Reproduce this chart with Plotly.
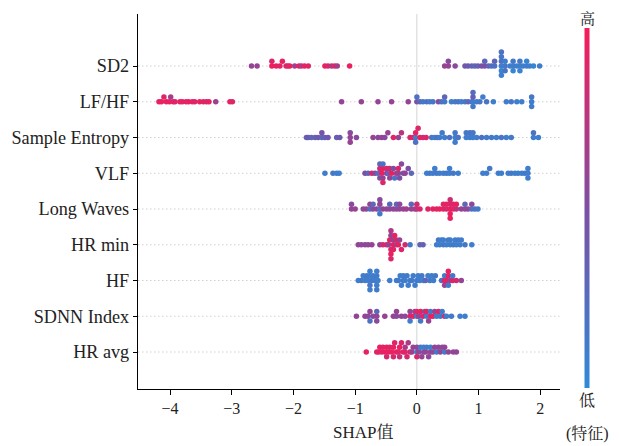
import numpy as np
import plotly.graph_objects as go

# ---------------- data ----------------
features = ["SD2", "LF/HF", "Sample Entropy", "VLF", "Long Waves",
            "HR min", "HF", "SDNN Index", "HR avg"]

sd2_shap = [-2.68, -2.59, -2.35, -2.35, -2.28, -2.22, -2.18, -2.12, -2.09, -2.06, -1.98,
            -1.91, -1.87, -1.82, -1.76, -1.49, -1.44, -1.38, -1.33, -1.29, -1.09,
            0.45, 0.51, 0.51, 0.62, 0.78, 0.83, 0.89, 0.94, 0.99, 1.05, 1.10, 1.10, 1.16,
            1.21, 1.26, 1.26, 1.37, 1.37, 1.37, 1.37, 1.37, 1.37, 1.43, 1.43, 1.43, 1.51,
            1.56, 1.56, 1.56, 1.62, 1.67, 1.67, 1.67, 1.72, 1.78, 1.78, 1.83, 1.89, 1.99]
sd2_feat = [0.6, 0.6, 0.95, 0.9, 0.95, 0.9, 0.95, 0.95, 0.8, 0.95, 0.65,
            0.95, 0.7, 0.95, 0.9, 0.95, 0.9, 0.7, 0.95, 0.65, 0.95,
            0.6, 0.6, 0.55, 0.55, 0.4, 0.4, 0.35, 0.3, 0.35, 0.45, 0.5, 0.3, 0.3,
            0.25, 0.2, 0.3, 0.1, 0.2, 0.05, 0.15, 0.1, 0.2, 0.15, 0.1, 0.2, 0.1,
            0.1, 0.15, 0.05, 0.1, 0.1, 0.15, 0.05, 0.1, 0.1, 0.05, 0.1, 0.05, 0.1]

lfhf_shap = [-4.18, -4.14, -4.10, -4.06, -4.01, -3.99, -3.95, -3.92, -3.84, -3.80, -3.74,
             -3.70, -3.64, -3.60, -3.52, -3.46, -3.41, -3.37, -3.26, -3.03, -2.99,
             -1.22, -0.90, -0.63, -0.41, -0.14,
             0.0, 0.0, 0.05, 0.10, 0.16, 0.21, 0.26, 0.35, 0.40, 0.45, 0.45, 0.56, 0.62,
             0.67, 0.72, 0.78, 0.83, 0.89, 0.91, 0.91, 0.91, 0.91, 0.97, 1.02, 1.07, 1.13,
             1.24, 1.45, 1.53, 1.62, 1.70, 1.86, 1.86, 1.86]
lfhf_feat = [0.95, 0.95, 0.9, 0.95, 0.95, 0.65, 0.95, 0.9, 0.95, 0.95, 0.9,
             0.95, 0.95, 0.9, 0.95, 0.95, 0.85, 0.95, 0.65, 0.95, 0.9,
             0.6, 0.6, 0.6, 0.6, 0.6,
             0.45, 0.2, 0.3, 0.15, 0.2, 0.1, 0.15, 0.55, 0.2, 0.15, 0.3, 0.1, 0.15,
             0.2, 0.1, 0.15, 0.3, 0.2, 0.1, 0.35, 0.15, 0.25, 0.1, 0.15, 0.1, 0.2,
             0.1, 0.1, 0.15, 0.1, 0.1, 0.1, 0.15, 0.1]

sampen_shap = [-1.79, -1.76, -1.71, -1.65, -1.60, -1.54, -1.54, -1.49, -1.44, -1.30, -1.25,
               -1.08, -1.08, -1.08, -0.98,
               -0.71, -0.63, -0.57, -0.52, -0.47, -0.38, -0.30, -0.25,
               -0.11, -0.06, -0.02, -0.02, -0.02, 0.02, 0.05, 0.10, 0.15,
               0.24, 0.29, 0.33, 0.37, 0.41, 0.45, 0.53, 0.62, 0.62, 0.62, 0.67, 0.80,
               0.80, 0.86, 0.86, 0.91, 0.91, 0.97, 1.05, 1.13, 1.21, 1.29, 1.37, 1.45,
               1.53, 1.89, 1.89, 1.97]
sampen_feat = [0.35, 0.4, 0.3, 0.35, 0.4, 0.3, 0.45, 0.35, 0.4, 0.35, 0.4,
               0.6, 0.55, 0.6, 0.55,
               0.6, 0.55, 0.6, 0.55, 0.6, 0.9, 0.6, 0.75,
               0.9, 0.95, 0.1, 0.95, 0.2, 0.9, 0.95, 0.85, 0.9,
               0.15, 0.1, 0.2, 0.1, 0.15, 0.1, 0.2, 0.1, 0.15, 0.1, 0.2, 0.1,
               0.15, 0.1, 0.2, 0.1, 0.15, 0.1, 0.2, 0.1, 0.15, 0.1, 0.2, 0.1,
               0.15, 0.1, 0.2, 0.1]

vlf_shap = [-1.49, -1.36, -1.30, -1.26,
            -0.84, -0.79, -0.73, -0.68, -0.63, -0.60, -0.60, -0.60, -0.57, -0.55,
            -0.55, -0.55, -0.55, -0.49, -0.49, -0.46, -0.44, -0.44, -0.41, -0.38,
            -0.36, -0.33, -0.30, -0.30, -0.28, -0.25, -0.22, -0.19, -0.14, -0.09,
            0.16, 0.21, 0.26, 0.29, 0.32, 0.37, 0.43, 0.48, 0.53, 0.53, 0.59, 0.67,
            1.07, 1.13, 1.18, 1.32, 1.37, 1.48, 1.53, 1.59, 1.64, 1.70, 1.75, 1.80,
            1.80, 1.80]
vlf_feat = [0.1, 0.15, 0.1, 0.1,
            0.5, 0.3, 0.85, 0.6, 0.2, 0.9, 0.5, 0.3, 0.95, 0.95,
            0.6, 0.2, 0.9, 0.55, 0.9, 0.3, 0.85, 0.6, 0.95, 0.5,
            0.2, 0.7, 0.6, 0.9, 0.5, 0.55, 0.45, 0.6, 0.5, 0.3,
            0.1, 0.15, 0.1, 0.1, 0.15, 0.1, 0.1, 0.15, 0.1, 0.1, 0.15, 0.1,
            0.1, 0.1, 0.15, 0.1, 0.1, 0.1, 0.15, 0.1, 0.1, 0.1, 0.15, 0.1,
            0.1, 0.1]

longw_shap = [-1.06, -1.06, -1.00, -0.87, -0.82, -0.76, -0.76, -0.71, -0.71, -0.65,
              -0.60, -0.60, -0.60, -0.60, -0.55, -0.49, -0.44, -0.44, -0.38, -0.33,
              -0.33, -0.28, -0.28, -0.22, -0.17, -0.09, -0.09, -0.03,
              0.0, 0.0, 0.05, 0.18, 0.26, 0.32, 0.37, 0.43, 0.43, 0.48, 0.48, 0.54,
              0.54, 0.54, 0.54, 0.54, 0.59, 0.59, 0.64, 0.64, 0.72, 0.78, 0.78, 0.83,
              0.89, 0.89, 0.94, 0.99]
longw_feat = [0.6, 0.55, 0.6, 0.55, 0.6, 0.2, 0.6, 0.55, 0.3, 0.6,
              0.2, 0.6, 0.15, 0.55, 0.6, 0.6, 0.55, 0.3, 0.6, 0.55,
              0.3, 0.6, 0.55, 0.6, 0.65, 0.6, 0.3, 0.65,
              0.7, 0.85, 0.9, 0.9, 0.95, 0.9, 0.95, 0.95, 0.9, 0.85, 0.95, 0.95,
              0.9, 0.95, 0.85, 0.95, 0.95, 0.9, 0.75, 0.95, 0.6, 0.55, 0.3, 0.6,
              0.2, 0.55, 0.2, 0.15]

hrmin_shap = [-0.95, -0.90, -0.84, -0.79, -0.73,
              -0.60, -0.55, -0.49, -0.46, -0.44, -0.42, -0.42, -0.42, -0.42, -0.42,
              -0.38, -0.38, -0.38, -0.36, -0.33, -0.33, -0.30, -0.28, -0.25, -0.19,
              -0.11, 0.05, 0.10,
              0.32, 0.35, 0.37, 0.40, 0.43, 0.43, 0.48, 0.51, 0.54, 0.54, 0.59, 0.62,
              0.64, 0.67, 0.70, 0.72, 0.78, 0.89]
hrmin_feat = [0.6, 0.55, 0.6, 0.55, 0.6,
              0.6, 0.85, 0.9, 0.6, 0.95, 0.9, 0.6, 0.95, 0.7, 0.9,
              0.95, 0.6, 0.9, 0.95, 0.65, 0.9, 0.95, 0.6, 0.9, 0.85,
              0.15, 0.3, 0.35,
              0.1, 0.15, 0.1, 0.1, 0.15, 0.1, 0.1, 0.15, 0.1, 0.1, 0.15, 0.1,
              0.1, 0.15, 0.1, 0.1, 0.15, 0.1]

hf_shap = [-0.95, -0.90, -0.87, -0.84, -0.81, -0.79, -0.76, -0.76, -0.76, -0.76,
           -0.73, -0.71, -0.68, -0.65, -0.65, -0.65, -0.65, -0.63, -0.44,
           -0.33, -0.30, -0.27, -0.25, -0.22, -0.22, -0.19, -0.16, -0.14, -0.11,
           -0.08, -0.06, -0.03, 0.0, 0.02, 0.05, 0.08, 0.11, 0.14, 0.18, 0.21, 0.24,
           0.27, 0.30, 0.40, 0.45, 0.45, 0.45, 0.48, 0.51, 0.51, 0.51, 0.54, 0.58,
           0.58, 0.64, 0.72]
hf_feat = [0.1, 0.15, 0.1, 0.1, 0.15, 0.1, 0.1, 0.15, 0.1, 0.1,
           0.15, 0.1, 0.1, 0.15, 0.1, 0.1, 0.15, 0.1, 0.1,
           0.1, 0.15, 0.1, 0.1, 0.15, 0.1, 0.1, 0.15, 0.1, 0.1,
           0.15, 0.1, 0.1, 0.15, 0.1, 0.1, 0.15, 0.1, 0.3, 0.1, 0.15, 0.1,
           0.1, 0.15, 0.2, 0.9, 0.1, 0.6, 0.95, 0.9, 0.1, 0.95, 0.6, 0.9,
           0.15, 0.85, 0.6]

sdnn_shap = [-0.98, -0.84, -0.79, -0.76, -0.76, -0.71, -0.65, -0.65, -0.65, -0.52,
             -0.38, -0.33, -0.33, -0.25, -0.19, -0.11, -0.11, -0.11, -0.06, -0.03,
             0.0, 0.0, 0.03, 0.06, 0.06, 0.10, 0.13, 0.16, 0.16, 0.19, 0.22, 0.22,
             0.26, 0.29, 0.32, 0.35, 0.38, 0.41, 0.45, 0.48, 0.56, 0.70, 0.78]
sdnn_feat = [0.6, 0.6, 0.55, 0.6, 0.2, 0.55, 0.6, 0.3, 0.55, 0.6,
             0.6, 0.55, 0.6, 0.6, 0.55, 0.9, 0.6, 0.1, 0.95, 0.6,
             0.1, 0.9, 0.6, 0.95, 0.15, 0.9, 0.55, 0.1, 0.95, 0.6, 0.9, 0.15,
             0.95, 0.6, 0.1, 0.9, 0.15, 0.1, 0.85, 0.1, 0.15, 0.1, 0.1]

hravg_shap = [-0.82, -0.65, -0.62, -0.60, -0.57, -0.55, -0.52, -0.49, -0.49, -0.46,
              -0.44, -0.41, -0.38, -0.38, -0.36, -0.33, -0.30, -0.28, -0.28, -0.25,
              -0.22, -0.19, -0.19, -0.16, -0.14, -0.11, -0.08, -0.06,
              0.0, 0.0, 0.0, 0.03, 0.06, 0.08, 0.11, 0.11, 0.14, 0.16, 0.19, 0.22,
              0.22, 0.26, 0.29, 0.32, 0.35, 0.38, 0.41, 0.45, 0.45, 0.51, 0.59, 0.64]
hravg_feat = [0.95, 0.95, 0.9, 0.95, 0.95, 0.9, 0.95, 0.95, 0.85, 0.95,
              0.9, 0.95, 0.95, 0.85, 0.9, 0.95, 0.9, 0.95, 0.8, 0.9,
              0.95, 0.9, 0.7, 0.85, 0.7, 0.9, 0.65, 0.6,
              0.1, 0.6, 0.9, 0.55, 0.15, 0.6, 0.55, 0.1, 0.6, 0.15, 0.55, 0.6,
              0.1, 0.55, 0.6, 0.15, 0.55, 0.6, 0.55, 0.1, 0.6, 0.6, 0.55, 0.6]

rows = [
    (sd2_shap, sd2_feat), (lfhf_shap, lfhf_feat), (sampen_shap, sampen_feat),
    (vlf_shap, vlf_feat), (longw_shap, longw_feat), (hrmin_shap, hrmin_feat),
    (hf_shap, hf_feat), (sdnn_shap, sdnn_feat), (hravg_shap, hravg_feat),
]

# ---------------- beeswarm layout ----------------
def swarm_offsets(vals, bin_w=0.055, step=0.13):
    vals = np.asarray(vals, dtype=float)
    q = np.round(vals / bin_w)
    order = np.argsort(q, kind="stable")
    ys = np.zeros(len(vals))
    layer, last = 0, None
    for i in order:
        if q[i] != last:
            layer = 0
        ys[i] = np.ceil(layer / 2) * ((layer % 2) * 2 - 1)
        layer += 1
        last = q[i]
    return ys * step

n = len(features)
all_x, all_y, all_c = [], [], []
for k, (sv, fv) in enumerate(rows):
    assert len(sv) == len(fv), features[k]
    base = n - 1 - k
    off = swarm_offsets(sv)
    all_x.extend(sv)
    all_y.extend(base + off)
    all_c.extend(fv)

colorscale = [[0.0, "#2f8ad8"], [0.5, "#7d4ea3"], [1.0, "#f51c5a"]]

FONT = "Liberation Serif, 'Noto Serif CJK SC', 'Noto Sans CJK SC', serif"

fig = go.Figure()
fig.add_trace(go.Scatter(
    x=all_x, y=all_y, mode="markers",
    marker=dict(size=5.5, color=all_c, colorscale=colorscale, cmin=0, cmax=1,
                line=dict(width=0), showscale=True,
                colorbar=dict(thickness=5, lenmode="pixels", len=380,
                              x=1.064, xanchor="center", y=0.483, yanchor="middle",
                              outlinewidth=0, showticklabels=False, ticks="")),
    showlegend=False, hoverinfo="x",
))

shapes = []
for k in range(n):
    shapes.append(dict(type="line", xref="paper", x0=0, x1=1, yref="y", y0=k, y1=k,
                       line=dict(color="#cfcfcf", width=1, dash="1.5px,2.5px"),
                       layer="below"))
shapes.append(dict(type="line", xref="x", x0=0, x1=0, yref="paper", y0=0, y1=1,
                   line=dict(color="#d4d4d4", width=1), layer="below"))

# page body has an 8px margin, so the figure is sized/offset to compensate
fig.update_layout(
    width=611, height=438,
    margin=dict(l=130, r=59, t=6, b=57, autoexpand=False),
    plot_bgcolor="white", paper_bgcolor="white",
    font=dict(family=FONT, color="#222222"),
    shapes=shapes,
    xaxis=dict(range=[-4.52, 2.32], tickvals=[-4, -3, -2, -1, 0, 1, 2],
               ticks="outside", ticklen=5, tickcolor="black", tickwidth=1,
               showline=True, linecolor="black", linewidth=1.3, automargin=False,
               showgrid=False, zeroline=False, tickfont=dict(size=16, family=FONT)),
    yaxis=dict(range=[-1.035, 9.455], tickvals=list(range(n)),
               ticktext=features[::-1], automargin=False,
               ticks="outside", ticklen=4, tickcolor="black", tickwidth=1,
               showline=True, linecolor="black", linewidth=1.3,
               showgrid=False, zeroline=False, tickfont=dict(size=18.2, family=FONT)),
    annotations=[
        dict(text="SHAP值", xref="paper", yref="paper", x=0.533, y=-0.115,
             xanchor="center", yanchor="middle", showarrow=False,
             font=dict(size=17, family=FONT)),
        dict(text="高", xref="paper", yref="paper", x=1.064, y=1.016,
             xanchor="center", yanchor="top", showarrow=False,
             font=dict(size=15, family=FONT)),
        dict(text="低", xref="paper", yref="paper", x=1.064, y=-0.03,
             xanchor="center", yanchor="middle", showarrow=False,
             font=dict(size=16, family=FONT)),
        dict(text="(特征)", xref="paper", yref="paper", x=1.064, y=-0.12,
             xanchor="center", yanchor="middle", showarrow=False,
             font=dict(size=16, family=FONT)),
    ],
)

fig.write_html("out.html")
